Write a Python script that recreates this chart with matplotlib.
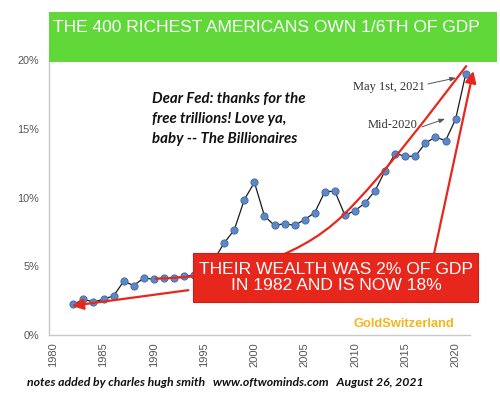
import matplotlib
matplotlib.use("Agg")
import matplotlib.pyplot as plt
from matplotlib.patches import Rectangle, FancyArrowPatch, PathPatch
from matplotlib.path import Path

# ---------------- data ----------------
years = [1982, 1983, 1984, 1985, 1986, 1987, 1988, 1989, 1990, 1991,
         1992, 1993, 1994, 1995, 1996, 1997, 1998, 1999, 2000, 2001,
         2002, 2003, 2004, 2005, 2006, 2007, 2008, 2009, 2010, 2011,
         2012, 2013, 2014, 2015, 2016, 2017, 2018, 2019, 2020, 2021]
share_pct = [2.22, 2.6, 2.4, 2.6, 2.85, 3.9, 3.6, 4.15, 4.05, 4.15,
             4.15, 4.27, 4.35, 4.6, 5.5, 6.7, 7.65, 9.85, 11.1, 8.65,
             7.97, 8.1, 7.97, 8.4, 8.9, 10.43, 10.45, 8.7, 9.05, 9.6,
             10.5, 11.96, 13.2, 13.0, 13.0, 13.96, 14.4, 14.13, 15.7, 18.96]
x_ticks = [1980, 1985, 1990, 1995, 2000, 2005, 2010, 2015, 2020]
x_tick_labels = [str(v) for v in x_ticks]
y_ticks = [0, 5, 10, 15, 20]
y_tick_labels = ["0%", "5%", "10%", "15%", "20%"]

title = "THE 400 RICHEST AMERICANS OWN 1/6TH OF GDP"
box_text = "THEIR WEALTH WAS 2% OF GDP\nIN 1982 AND IS NOW 18%"
note_text = "Dear Fed: thanks for the\nfree trillions! Love ya,\nbaby -- The Billionaires"
footer_text = "notes added by charles hugh smith   www.oftwominds.com   August 26, 2021"
brand_text = "GoldSwitzerland"
may_label = "May 1st, 2021"
mid_label = "Mid-2020"

# hand-drawn red trend curve (bezier control points, in year / % units)
curve_x = [1990.1, 1997.0, 2004.0, 2008.8, 2012.8, 2018.1, 2021.1]
curve_y = [4.1, 4.2, 5.3, 8.7, 11.54, 16.75, 19.6]

RED = "#e8271c"

fig = plt.figure(figsize=(5.0, 3.97), dpi=100)
ax = fig.add_axes([49.3 / 500, 1 - 335 / 397, (470 - 49.3) / 500, (335 - 60) / 397])
ax.set_xlim(1979.61, 2021.43)
ax.set_ylim(0, 20)

ax.plot(years, share_pct, color="#1a1a1a", lw=0.9, marker="o", ms=5.2,
        mfc="#5d87c6", mec="#3f679f", mew=0.6, clip_on=False, zorder=3)

for s in ["top", "right"]:
    ax.spines[s].set_visible(False)
for s in ["left", "bottom"]:
    ax.spines[s].set_color("#c8c8c8")
    ax.spines[s].set_linewidth(1.0)

ax.set_xticks(x_ticks)
ax.set_xticklabels(x_tick_labels, rotation=90, fontsize=8, color="#555555",
                   family="Liberation Sans")
ax.set_yticks(y_ticks)
ax.set_yticklabels(y_tick_labels, fontsize=7.8, color="#555555",
                   family="Liberation Sans")
ax.tick_params(axis="x", length=0, pad=5.5)
ax.tick_params(axis="y", length=0, pad=7.2)

# red curve
codes = [Path.MOVETO] + [Path.CURVE4] * 6
curve = PathPatch(Path(list(zip(curve_x, curve_y)), codes), fill=False,
                  edgecolor=RED, lw=1.6, transform=ax.transData,
                  clip_on=False, zorder=5)
ax.add_patch(curve)

# red arrows
def red_arrow(tail, tip):
    a = FancyArrowPatch(tail, tip, transform=ax.transData,
                        arrowstyle="-|>,head_length=7,head_width=3.3",
                        mutation_scale=1, color=RED, lw=1.6,
                        shrinkA=0, shrinkB=0, clip_on=False, zorder=5)
    ax.add_patch(a)

red_arrow((1993.43, 3.26), (1981.84, 2.12))
red_arrow((2017.29, 3.99), (2021.76, 19.2))

# red box
box = Rectangle((1993.93, 2.37), 2022.26 - 1993.93, 5.99 - 2.37,
                facecolor=RED, edgecolor="#c9211a", lw=0.8,
                transform=ax.transData, clip_on=False, zorder=6)
ax.add_patch(box)
ax.text(2008.15, 4.2, box_text, ha="center", va="center", color="white",
        fontsize=12.6, family="Liberation Sans", linespacing=1.12, zorder=7)

# grey annotations
ax.text(2009.8, 18.04, may_label, ha="left", va="center", fontsize=9,
        family="Liberation Serif", color="#333333", zorder=4)
ax.text(2011.29, 15.29, mid_label, ha="left", va="center", fontsize=9,
        family="Liberation Serif", color="#333333", zorder=4)
for tail, tip in [((2017.25, 18.26), (2020.04, 18.7)),
                  ((2016.66, 15.14), (2018.95, 15.72))]:
    a = FancyArrowPatch(tail, tip, transform=ax.transData,
                        arrowstyle="-|>,head_length=3.5,head_width=1.3",
                        mutation_scale=1, color="#555555", lw=0.7,
                        shrinkA=0, shrinkB=0, clip_on=False, zorder=4)
    ax.add_patch(a)

# green banner
banner = Rectangle((49.3 / 500, 1 - 61.7 / 397), (497 - 49.3) / 500, (61.7 - 12.3) / 397,
                   transform=fig.transFigure, facecolor="#60d83a", edgecolor="none",
                   zorder=10)
fig.add_artist(banner)
fig.text(53 / 500, 1 - 27 / 397, title, color="white", fontsize=12.5,
         family="Liberation Sans", ha="left", va="center", zorder=11)

# note text (baseline of last line)
fig.text(151.7 / 500, 1 - 143.5 / 397, note_text, fontsize=10.8, fontweight="bold",
         fontstyle="italic", family="Lato", color="#111111", ha="left",
         va="baseline", linespacing=1.55)

fig.text(353.3 / 500, 1 - 324.3 / 397, brand_text, fontsize=9.3, fontweight="bold",
         family="Liberation Sans", color="#f5b51c", ha="left", va="center")

fig.text(27 / 500, 1 - 382 / 397, footer_text, fontsize=8.85, fontweight="bold",
         fontstyle="italic", family="Lato", color="#111111", ha="left", va="center")

fig.savefig("out.png", dpi=100)
